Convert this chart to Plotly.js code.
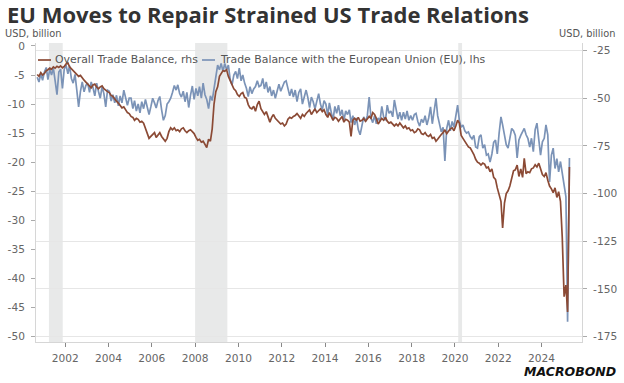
<!DOCTYPE html>
<html>
<head>
<meta charset="utf-8">
<script src="https://cdn.plot.ly/plotly-3.0.1.min.js"></script>
<style>
  html, body { margin: 0; padding: 0; background: #ffffff; }
  #chart { width: 624px; height: 383px; }
</style>
</head>
<body>
<div id="chart"></div>
<script>
// ---- Data (monthly, Sep 2000 .. Apr 2025), USD billion ----
const startYear = 2000;
const startMonth = 9; // September

// Trade Balance with the European Union (EU), lhs
const euBalance = [
  -5.4, -6.2, -4.8, -5.9,
  -4.5, -3.7, -5.8, -4.0, -5.0, -3.8, -6.0, -8.4, -4.5, -4.0, -7.3, -4.0,
  -3.3, -4.8, -3.4, -5.6, -6.4, -4.9, -7.6, -10.5, -7.8, -6.2, -7.9, -6.8,
  -6.4, -8.0, -6.2, -7.2, -8.6, -6.4, -7.8, -9.0, -7.0, -8.2, -10.5, -7.6,
  -7.8, -9.5, -8.4, -9.8, -8.5, -10.3, -8.6, -9.8, -7.6, -8.8, -10.2, -9.0,
  -9.0, -10.8, -9.4, -11.2, -10.0, -11.5, -9.6, -10.8, -9.2, -10.5, -11.8, -10.5,
  -9.0, -9.8, -10.7, -9.4, -8.7, -11.0, -12.8, -12.0, -10.0, -9.6, -9.0, -8.0,
  -6.8, -7.6, -6.7, -8.2, -8.8, -7.8, -9.6, -8.0, -10.6, -8.5, -6.9, -9.2,
  -7.3, -8.6, -7.0, -9.0, -6.4, -8.4, -9.2, -10.8, -8.6, -9.4, -7.3, -5.0,
  -3.3, -4.1, -3.0, -4.4, -3.0, -4.1, -3.3, -5.8, -6.7, -5.0, -4.4, -5.6,
  -3.8, -6.0, -5.0, -6.4, -7.3, -8.7, -7.0, -8.2, -7.4, -7.0, -6.0, -7.0,
  -6.8, -5.6, -7.4, -6.2, -8.0, -7.0, -8.6, -7.6, -9.0, -7.8, -6.6, -7.8,
  -7.0, -6.2, -6.0, -7.6, -8.6, -7.4, -8.8, -7.6, -9.6, -8.0, -7.4, -10.0,
  -9.0, -7.6, -8.8, -10.6, -8.8, -9.6, -10.8, -9.2, -8.2, -10.0, -11.0, -9.4,
  -10.0, -12.0, -9.8, -11.4, -12.8, -10.4, -11.6, -10.2, -12.0, -11.0, -12.8, -11.2,
  -11.8, -11.0, -13.2, -12.0, -13.6, -12.4, -14.4, -15.3, -13.6, -12.2, -13.0, -12.0,
  -8.8, -12.4, -13.2, -12.0, -13.4, -12.4, -13.0, -10.4, -12.2, -12.8, -10.2, -11.6,
  -11.2, -12.2, -9.3, -11.0, -12.6, -11.4, -12.8, -11.4, -12.6, -11.2, -12.8, -12.0,
  -12.8, -11.8, -11.6, -13.0, -13.8, -12.6, -13.2, -12.0, -13.6, -12.4, -10.5, -13.4,
  -11.2, -9.0, -12.0, -13.4, -14.8, -14.0, -19.8, -14.2, -12.8, -14.6, -13.0, -14.0,
  -12.0, -10.2, -12.8, -14.0, -13.6, -14.6, -15.0, -14.8, -15.6, -16.0, -15.4, -17.4,
  -17.6, -15.6, -15.3, -17.6, -17.0, -18.8, -18.6, -20.0, -18.6, -16.6, -16.2, -18.6,
  -15.0, -12.2, -13.6, -15.3, -17.0, -17.6, -16.0, -14.2, -14.6, -15.4, -19.3, -16.2,
  -15.4, -14.8, -14.2, -15.3, -15.9, -17.4, -15.9, -18.2, -14.4, -13.3, -16.5, -18.8,
  -16.5, -15.9, -13.6, -15.3, -23.4, -18.8, -17.6, -21.1, -19.4, -21.7, -19.9, -21.7,
  -23.5, -26.0, -47.5, -19.3
];

// Overall Trade Balance, rhs
const overallBalance = [
  -37.5, -38.5, -36.5, -37.8,
  -37.0, -35.5, -35.0, -34.2, -34.8, -33.5, -34.2, -33.2, -33.8, -33.0, -34.0, -33.3,
  -32.0, -31.5, -33.5, -34.5, -35.5, -36.5, -37.0, -38.5, -38.0, -39.5, -40.5, -41.5,
  -42.5, -43.5, -44.5, -43.0, -42.5, -44.0, -45.0, -44.0, -43.5, -45.0, -46.0, -46.5,
  -47.0, -48.5, -49.0, -50.5, -51.5, -52.5, -53.5, -55.0, -54.5, -56.0, -57.5, -58.0,
  -59.5, -60.0, -61.5, -60.5, -61.0, -62.5, -62.0, -63.0, -66.0, -68.5, -71.0, -70.0,
  -69.0, -68.0, -70.5, -69.5, -68.0, -70.0, -71.5, -72.5, -71.0, -67.5, -65.5, -66.5,
  -65.5, -67.0, -66.5, -67.5, -66.0, -65.5, -67.0, -68.0, -67.0, -66.5, -67.5, -68.5,
  -70.5, -72.0, -71.5, -73.0, -72.5, -74.0, -75.8, -71.5, -72.5, -66.0, -53.0, -46.5,
  -44.0, -38.5, -37.0, -35.5, -35.8, -35.0, -38.5, -41.0, -43.5, -45.0, -46.0, -48.0,
  -49.0, -47.5, -47.0, -49.5, -50.0, -53.3, -55.0, -55.5, -54.2, -56.8, -53.3, -51.5,
  -55.5, -57.5, -58.5, -57.0, -59.5, -62.5, -60.0, -58.5, -60.5, -61.5, -62.0, -63.5,
  -63.0, -64.5, -63.5, -61.0, -60.0, -60.5, -59.5, -59.0, -58.0, -59.5, -60.5, -58.5,
  -59.5, -58.0, -57.0, -56.0, -58.5, -57.0, -55.5, -57.5, -56.5, -55.5, -57.0, -56.0,
  -58.5, -60.0, -57.5, -59.5, -61.5, -60.0, -60.5, -62.0, -61.0, -59.5, -62.5, -61.0,
  -61.5, -62.5, -70.0, -61.5, -60.5, -61.5, -60.0, -62.0, -61.5, -60.5, -62.0, -61.0,
  -59.5, -60.5, -57.5, -58.5, -60.5, -63.5, -62.0, -60.5, -61.5, -60.0, -62.0, -63.0,
  -62.5, -63.5, -64.5, -63.5, -64.5, -63.0, -64.0, -65.5, -64.5, -66.0, -65.5, -67.0,
  -66.5, -68.0, -67.5, -66.0, -66.5, -68.5, -69.0, -68.0, -69.5, -70.0, -69.0, -71.0,
  -70.5, -72.5, -71.5, -70.0, -69.0, -68.0, -66.5, -68.5, -67.0, -66.0, -65.5, -67.0,
  -64.5, -61.5, -63.0, -69.5, -71.0, -72.5, -74.0, -75.5, -76.0, -77.5, -79.5, -82.0,
  -83.5, -84.0, -85.0, -84.0, -84.5, -86.5, -86.0, -88.5, -87.0, -91.5, -92.5, -97.0,
  -101.0, -104.0, -118.0, -105.0, -100.0, -98.5, -96.0, -91.0, -88.0, -87.5, -85.0, -91.0,
  -87.0, -91.5, -81.5, -89.5, -88.5, -89.0, -87.0, -86.5, -84.8, -86.0, -84.0, -87.0,
  -90.0, -91.0, -89.0, -93.0, -96.0, -97.5, -99.5, -97.0, -102.0, -99.0, -104.0, -123.0,
  -154.0, -148.0, -162.0, -86.0
];

// Axis ticks
const xTickYears = ['2002','2004','2006','2008','2010','2012','2014','2016','2018','2020','2022','2024'];
const leftTicks = [0, -5, -10, -15, -20, -25, -30, -35, -40, -45, -50];
const rightTicks = [-25, -50, -75, -100, -125, -150, -175];

// Shaded periods (recessions)
const shadedStart = ['2001-04-01', '2008-01-01', '2020-02-25'];
const shadedEnd   = ['2001-11-20', '2009-06-28', '2020-04-30'];

// Labels
const titleText = 'EU Moves to Repair Strained US Trade Relations';
const seriesNames = ['Overall Trade Balance, rhs', 'Trade Balance with the European Union (EU), lhs'];
const unitText = 'USD, billion';

// ---- Build dates (mid-month) ----
function monthDates(n) {
  const out = [];
  let y = startYear, m = startMonth;
  for (let i = 0; i < n; i++) {
    out.push(y + '-' + String(m).padStart(2, '0') + '-15');
    m++; if (m > 12) { m = 1; y++; }
  }
  return out;
}
const datesEU = monthDates(euBalance.length);
const datesAll = monthDates(overallBalance.length);

const brown = '#8b4a35';
const blue = '#7b93b7';
const FONT = 'DejaVu Sans, Verdana, sans-serif';
const tickFont = { family: FONT, size: 10.6, color: '#666666' };
const labelFont = { family: FONT, size: 10.9, color: '#555555' };

// plot-area geometry helpers (pixels -> paper)
const L = 36, R = 42, T = 43, B = 41, W = 624, H = 383;
const pw = W - L - R, ph = H - T - B;
const px = x => (x - L) / pw;
const py = y => (H - B - y) / ph;

const traces = [
  {
    x: datesEU, y: euBalance, name: seriesNames[1], type: 'scatter', mode: 'lines',
    line: { color: blue, width: 1.7 }, xaxis: 'x', yaxis: 'y', hoverinfo: 'skip'
  },
  {
    x: datesAll, y: overallBalance, name: seriesNames[0], type: 'scatter', mode: 'lines',
    line: { color: brown, width: 1.7 }, xaxis: 'x', yaxis: 'y2', hoverinfo: 'skip'
  }
];

const shapes = shadedStart.map((s, i) => ({
  type: 'rect', xref: 'x', yref: 'paper', x0: s, x1: shadedEnd[i], y0: 0, y1: 1,
  fillcolor: '#e8e9e9', line: { width: 0 }, layer: 'below'
}));
// legend line samples
shapes.push({ type: 'line', xref: 'paper', yref: 'paper', x0: px(38), x1: px(51), y0: py(60), y1: py(60), line: { color: brown, width: 1.7 } });
shapes.push({ type: 'line', xref: 'paper', yref: 'paper', x0: px(202), x1: px(215), y0: py(60), y1: py(60), line: { color: blue, width: 1.7 } });

const annotations = [
  { text: seriesNames[0], xref: 'paper', yref: 'paper', x: px(53), y: py(60), xanchor: 'left', yanchor: 'middle', showarrow: false, font: labelFont },
  { text: seriesNames[1], xref: 'paper', yref: 'paper', x: px(218), y: py(60), xanchor: 'left', yanchor: 'middle', showarrow: false, font: labelFont },
  { text: unitText, xref: 'paper', yref: 'paper', x: px(3), y: py(33.5), xanchor: 'left', yanchor: 'middle', showarrow: false, font: { family: FONT, size: 9.8, color: '#555555' } },
  { text: unitText, xref: 'paper', yref: 'paper', x: px(617), y: py(33.5), xanchor: 'right', yanchor: 'middle', showarrow: false, font: { family: FONT, size: 9.8, color: '#555555' } },
  { text: '<b><i>MACROBOND</i></b>', xref: 'paper', yref: 'paper', x: px(618), y: py(371), xanchor: 'right', yanchor: 'middle', showarrow: false, font: { family: FONT, size: 12.5, color: '#111111' } }
];

const layout = {
  width: W, height: H,
  margin: { l: L, r: R, t: T, b: B, pad: 0 },
  paper_bgcolor: '#ffffff', plot_bgcolor: '#ffffff',
  showlegend: false,
  title: {
    text: '<b>' + titleText + '</b>',
    x: 7 / W, xanchor: 'left', xref: 'container',
    y: 1 - 15.5 / H, yanchor: 'middle', yref: 'container',
    font: { family: 'Open Sans, sans-serif', size: 22, color: '#333333' }
  },
  xaxis: {
    type: 'date', range: ['2000-08-26', '2025-11-13'],
    tickmode: 'array', tickvals: xTickYears.map(y => y + '-01-01'), ticktext: xTickYears,
    ticks: 'outside', ticklen: 4, tickcolor: '#888888', tickwidth: 1,
    showline: true, linecolor: '#d6d6d6', linewidth: 1, ticklabelstandoff: 2,
    showgrid: false, zeroline: false, tickfont: tickFont, fixedrange: true
  },
  yaxis: {
    range: [-50.98, 0.51], tickmode: 'array', tickvals: leftTicks, ticktext: leftTicks.map(String),
    ticks: 'outside', ticklen: 4, tickcolor: '#aaaaaa', tickwidth: 1, ticklabelstandoff: 4,
    showline: true, linecolor: '#d6d6d6', linewidth: 1,
    showgrid: false, zeroline: false, tickfont: tickFont, fixedrange: true
  },
  yaxis2: {
    overlaying: 'y', side: 'right',
    range: [-177.8, -21.0], tickmode: 'array', tickvals: rightTicks, ticktext: rightTicks.map(String),
    ticks: 'outside', ticklen: 4, tickcolor: '#aaaaaa', tickwidth: 1, ticklabelstandoff: 4,
    showline: true, linecolor: '#d6d6d6', linewidth: 1,
    showgrid: true, gridcolor: '#e6e6e6', gridwidth: 1,
    zeroline: false, tickfont: tickFont, fixedrange: true
  },
  shapes: shapes,
  annotations: annotations
};

Plotly.newPlot('chart', traces, layout, { displayModeBar: false, staticPlot: true });
</script>
</body>
</html>
